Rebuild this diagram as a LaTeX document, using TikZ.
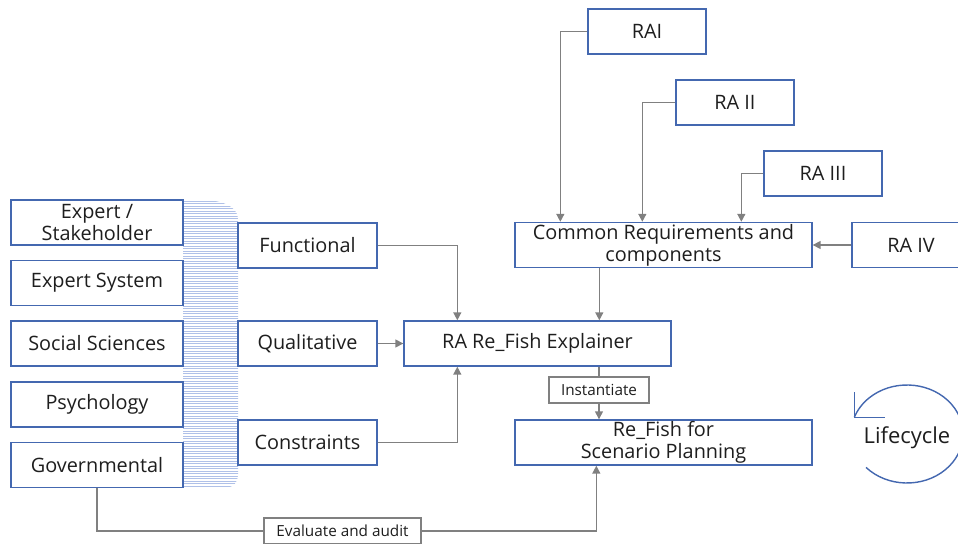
\documentclass[tikz,border=0pt]{standalone}
\usepackage{fontspec}
\setmainfont{Open Sans}
\usetikzlibrary{arrows.meta, calc}
\definecolor{boxblue}{RGB}{68, 104, 176}
\definecolor{linegray}{RGB}{128, 128, 128}
\definecolor{hatchblue}{RGB}{175, 192, 232}
\definecolor{textdark}{RGB}{30, 30, 30}

\begin{document}
\begin{tikzpicture}[x=0.02cm, y=-0.02cm, >={Triangle[length=4.5pt, width=4.5pt]},
  box/.style={draw=boxblue, line width=0.8pt, fill=white, text=textdark,
    font=\fontsize{11.3}{12.5}\selectfont, align=center, inner sep=0pt, minimum height=0.9cm},
  srcbox/.style={box, minimum width=3.44cm},
  kindbox/.style={box, minimum width=2.78cm},
  widebox/.style={box, minimum width=5.94cm},
  rabox/.style={box, minimum width=2.36cm},
  tag/.style={draw=linegray, line width=0.6pt, fill=white, text=textdark,
    font=\fontsize{8.7}{9}\selectfont, inner sep=0pt, minimum height=0.52cm},
  conn/.style={->, linegray, line width=0.8pt}]

  \useasboundingbox (0,0) rectangle (958,544);
  \clip (0,0) rectangle (958,544);

  % --- Hatched band behind the sources ---
  \begin{scope}
    \clip (183,200.5) -- (212,200.5) .. controls (230,203) and (238,210) .. (238,220)
      -- (238,475) .. controls (238,482) and (234,488) .. (222,488.5) -- (183,488.5) -- cycle;
    \foreach \y in {201,203.5,...,488}
      \draw[hatchblue, line width=0.4pt] (183,\y) -- (240,\y);
  \end{scope}

  % --- Sources ---
  \node[srcbox] (expert) at (97,222.5) {Expert /\\Stakeholder};
  \node[srcbox] (expsys) at (97,283) {Expert System};
  \node[srcbox] (social) at (97,343.5) {Social Sciences};
  \node[srcbox] (psych) at (97,404.5) {Psychology};
  \node[srcbox] (gov) at (97,465) {Governmental};

  % --- Kinds of knowledge ---
  \node[kindbox] (functional) at (307.5,245.5) {Functional};
  \node[kindbox] (qualitative) at (307.5,343.5) {Qualitative};
  \node[kindbox] (constraints) at (307.5,442.5) {Constraints};

  % --- Explainer and instance ---
  \node[box, minimum width=5.34cm] (explainer) at (537.5,343.5) {RA Re\_Fish Explainer};
  \node[tag, minimum width=2cm] (instantiate) at (599,390) {Instantiate};
  \node[widebox] (refish) at (663.5,442.5) {Re\_Fish for\\Scenario Planning};

  % --- Reference architectures ---
  \node[widebox] (common) at (663.5,245) {Common Requirements and\\components};
  \node[rabox] (rai) at (647,31.5) {RAI};
  \node[rabox] (raii) at (735,102.5) {RA II};
  \node[rabox] (raiii) at (823,173.5) {RA III};
  \node[rabox] (raiv) at (911,245) {RA IV};

  % --- Evaluation ---
  \node[tag, minimum width=3.14cm] (evaluate) at (342.5,531) {Evaluate and audit};

  % --- Connectors ---
  \draw[conn] (functional.east) -| ($(explainer.north west)+(54,0)$);
  \draw[conn] (qualitative) -- (explainer);
  \draw[conn] (constraints.east) -| ($(explainer.south west)+(54,0)$);

  \coordinate (cdown) at ($(common.south west)+(85,0)$);
  \draw[conn] (cdown) -- (cdown |- explainer.north);

  \draw[linegray, line width=0.8pt] (instantiate.north |- explainer.south) -- (instantiate.north);
  \draw[conn] (instantiate.south) -- (instantiate.south |- refish.north);

  \draw[conn] (rai.west) -| ($(common.north west)+(46,0)$);
  \draw[conn] (raii.west) -| ($(common.north west)+(128,0)$);
  \draw[conn] (raiii.west) -| ($(common.north west)+(227,0)$);
  \draw[conn] (raiv) -- (common);

  \draw[linegray, line width=0.8pt] (gov.south) |- (evaluate.west);
  \draw[conn] (evaluate.east) -| ($(refish.south west)+(82,0)$);

  % --- Lifecycle ---
  \coordinate (cyc) at (907,434);
  \node[text=textdark, font=\fontsize{12.5}{14}\selectfont] (lifecycle) at (907,438) {Lifecycle};
  \draw[boxblue, line width=0.8pt]
    (cyc) ++(137:56 and 49) arc[start angle=137, end angle=-160, x radius=56, y radius=49]
    coordinate (tip);
  \draw[boxblue, line width=0.8pt] ($(tip)+(0,-25)$) -- (tip) -- ++(31,0);

\end{tikzpicture}
\end{document}
